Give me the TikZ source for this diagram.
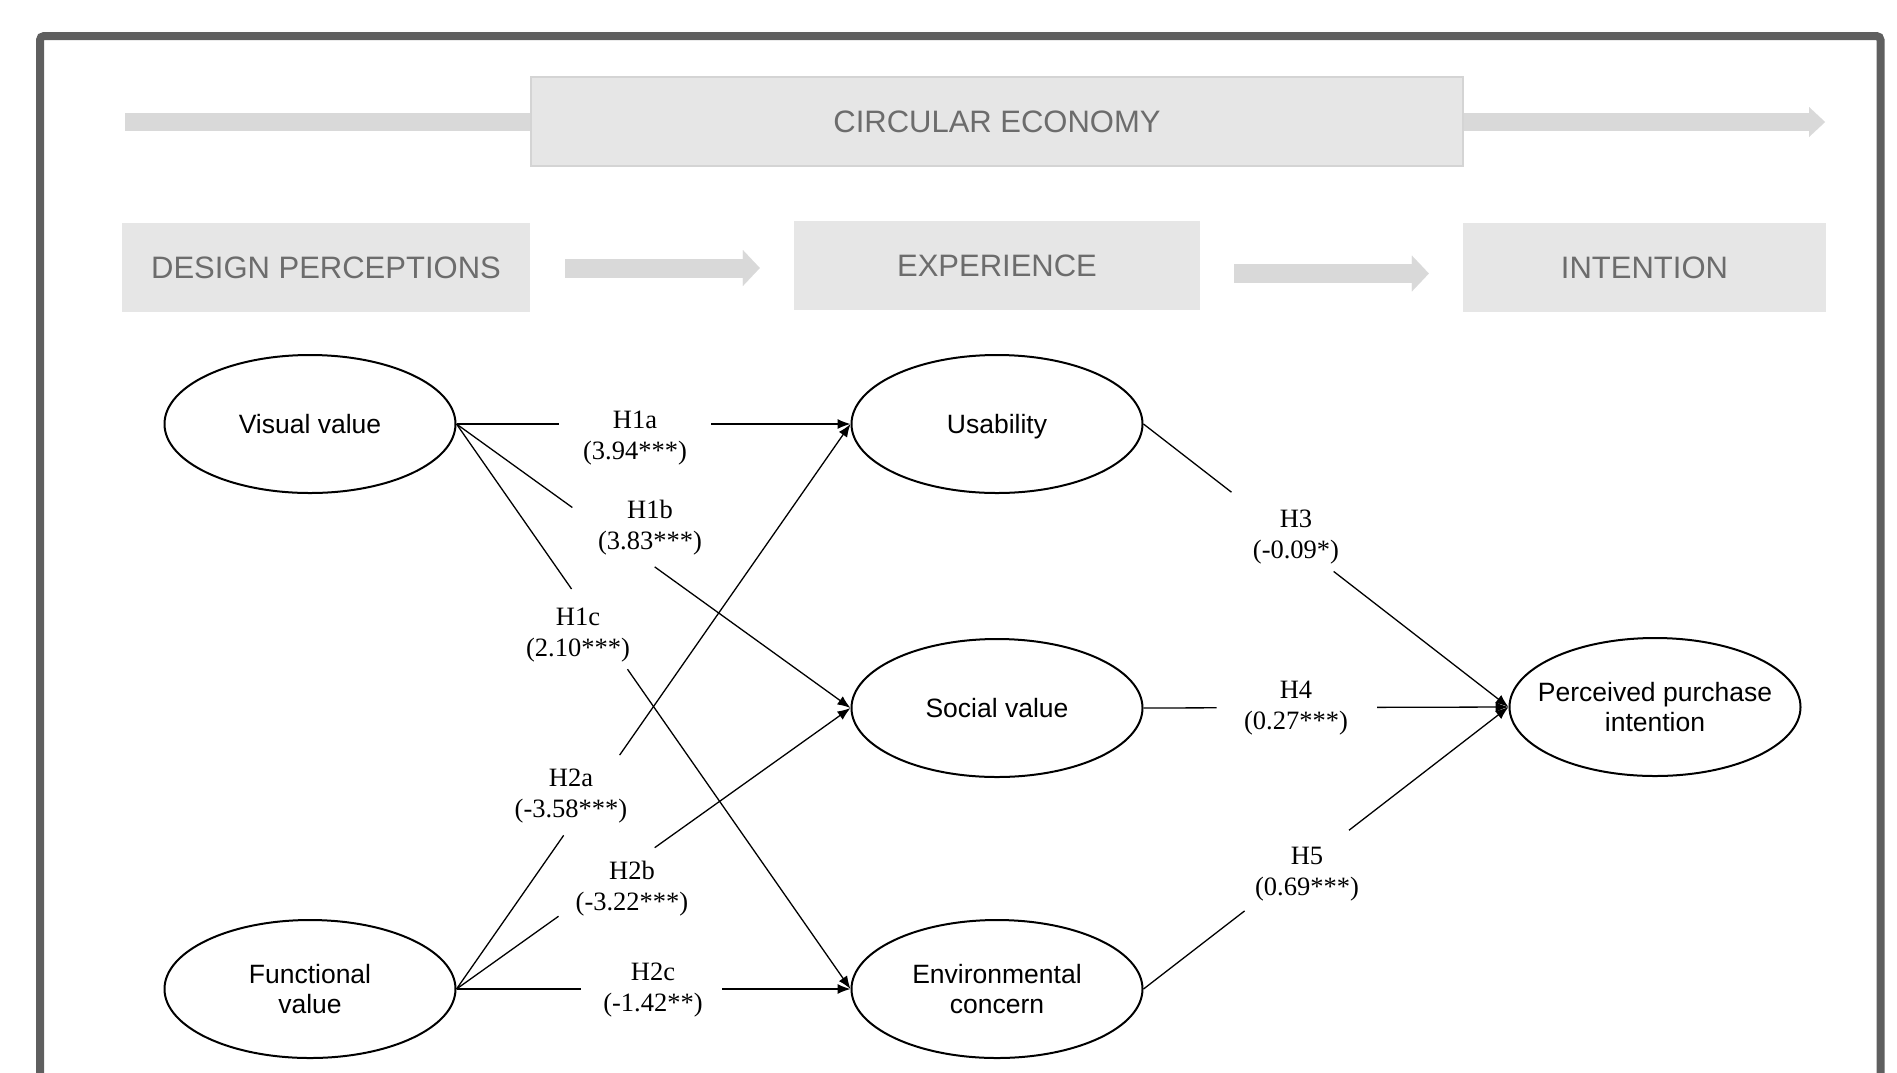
\documentclass[tikz,border=0pt]{standalone}
\usepackage{fontspec}
\setmainfont{Liberation Sans}
\newfontfamily\lblfont{Liberation Serif}
\usetikzlibrary{arrows.meta,calc,shapes.geometric}
\definecolor{framegray}{RGB}{95,95,95}
\definecolor{boxfill}{RGB}{230,230,230}
\definecolor{barfill}{RGB}{217,217,217}
\definecolor{boxtext}{RGB}{108,108,108}
\definecolor{boxline}{RGB}{212,212,212}
\begin{document}
\begin{tikzpicture}[x=1pt,y=-1pt,
  stagebox/.style={fill=boxfill, inner sep=0pt, font=\fontsize{31}{36}\selectfont, text=boxtext},
  bigarrow/.style={draw=barfill, line width=19pt, -{Triangle[length=17pt,width=36pt,line width=0.01pt]}},
  toparrow/.style={draw=barfill, line width=18pt, -{Triangle[length=16pt,width=30pt,line width=0.01pt]}},
  construct/.style={ellipse, draw, line width=2pt, minimum width=291pt, minimum height=138pt, inner sep=0pt, align=center, font=\fontsize{26.5}{30}\selectfont},
  hlabel/.style={align=center, font=\lblfont\fontsize{26.5}{31}\selectfont, inner sep=0pt, yshift=-3pt},
  hyp/.style={line width=1.3pt},
  hypend/.style={line width=1.3pt, -{Latex[length=13pt,width=10pt]}},
]
\useasboundingbox (0,0) rectangle (1897,1072);
\clip (0,0) rectangle (1897,1072);

% frame
\draw[framegray, line width=8pt, rounded corners=4pt] (40,1090) -- (40,36) -- (1880.5,36) -- (1880.5,1090);

% circular economy bar
\coordinate (ceA) at (125,122);
\coordinate (ceB) at (1825,122);
\draw[toparrow] (ceA) -- (ceB);
\node[stagebox, draw=boxline, line width=2pt, minimum width=932pt, minimum height=89pt] (ce) at (997,121.5) {CIRCULAR ECONOMY};

% stage boxes
\node[stagebox, minimum width=408pt, minimum height=89pt] (dp) at (326,267.5) {DESIGN PERCEPTIONS};
\node[stagebox, minimum width=406pt, minimum height=89pt] (exp) at (997,265.5) {EXPERIENCE};
\node[stagebox, minimum width=363pt, minimum height=89pt] (int) at (1644.5,267.5) {INTENTION};
\draw[bigarrow, shorten <=35pt, shorten >=34pt] ([yshift=-0.5pt]dp.east) -- ([yshift=-2.5pt]exp.west);
\draw[bigarrow, shorten <=34pt, shorten >=34pt] ([yshift=-8pt]exp.east) -- ([yshift=-6pt]int.west);

% constructs
\node[construct] (vis) at (310,424) {Visual value};
\node[construct] (fun) at (310,989) {Functional\\value};
\node[construct, text depth=0pt] (use) at (997,424) {Usability};
\node[construct] (soc) at (997,708) {Social value};
\node[construct] (env) at (997,989) {Environmental\\concern};
\node[construct, inner xsep=-25pt] (ppi) at (1655,707) {Perceived purchase\\intention};

% labels
\node[hlabel] (l1a) at (635,435) {H1a\\(3.94***)};
\node[hlabel] (l1b) at (650,525) {H1b\\(3.83***)};
\node[hlabel] (l1c) at (578,632) {H1c\\(2.10***)};
\node[hlabel] (l2a) at (571,793) {H2a\\(-3.58***)};
\node[hlabel] (l2b) at (632,886) {H2b\\(-3.22***)};
\node[hlabel] (l2c) at (653,987) {H2c\\(-1.42**)};
\node[hlabel] (l3) at (1296,534) {H3\\(-0.09*)};
\node[hlabel] (l4) at (1296,705) {H4\\(0.27***)};
\node[hlabel] (l5) at (1307,871) {H5\\(0.69***)};

% connectors (with gaps for labels)
\draw[hyp] (vis.east) -- ($(vis.east)!0.259!(use.west)$);
\draw[hypend] ($(vis.east)!0.647!(use.west)$) -- (use.west);
\draw[hyp] (vis.east) -- ($(vis.east)!0.294!(soc.west)$);
\draw[hypend] ($(vis.east)!0.503!(soc.west)$) -- (soc.west);
\draw[hyp] (vis.east) -- ($(vis.east)!0.292!(env.west)$);
\draw[hypend] ($(vis.east)!0.434!(env.west)$) -- (env.west);

\draw[hyp] (fun.east) -- ($(fun.east)!0.272!(use.west)$);
\draw[hypend] ($(fun.east)!0.414!(use.west)$) -- (use.west);
\draw[hyp] (fun.east) -- ($(fun.east)!0.259!(soc.west)$);
\draw[hypend] ($(fun.east)!0.503!(soc.west)$) -- (soc.west);
\draw[hyp] (fun.east) -- ($(fun.east)!0.315!(env.west)$);
\draw[hypend] ($(fun.east)!0.675!(env.west)$) -- (env.west);

\draw[hyp] (use.east) -- ($(use.east)!0.241!(ppi.west)$);
\draw[hypend] ($(use.east)!0.521!(ppi.west)$) -- (ppi.west);
\draw[hyp] (soc.east) -- ($(soc.east)!0.200!(ppi.west)$);
\draw[hypend] ($(soc.east)!0.640!(ppi.west)$) -- (ppi.west);
\draw[hyp] (env.east) -- ($(env.east)!0.277!(ppi.west)$);
\draw[hypend] ($(env.east)!0.563!(ppi.west)$) -- (ppi.west);
\end{tikzpicture}
\end{document}
